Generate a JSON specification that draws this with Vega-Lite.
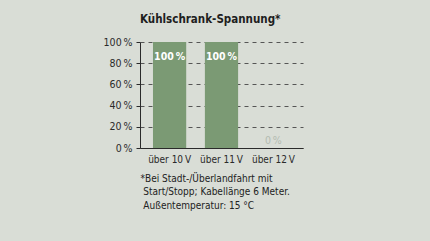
{
  "$schema": "https://vega.github.io/schema/vega-lite/v6.json",
  "autosize": "none",
  "width": 163,
  "height": 106,
  "padding": {"left": 140, "top": 42, "right": 127, "bottom": 93},
  "background": "#d9ddd6",
  "config": {
    "view": {"stroke": null},
    "font": "DejaVu Sans Condensed"
  },
  "title": {
    "text": "Kühlschrank-Spannung*",
    "anchor": "start",
    "frame": "group",
    "fontSize": 11.5,
    "fontWeight": "bold",
    "color": "#1e1e1e",
    "offset": 12,
    "font": "DejaVu Sans Condensed"
  },
  "data": {
    "values": [
      {"kategorie": "über 10\u202fV", "anteil": 100},
      {"kategorie": "über 11\u202fV", "anteil": 100},
      {"kategorie": "über 12\u202fV", "anteil": 0}
    ]
  },
  "encoding": {
    "x": {
      "field": "kategorie",
      "type": "nominal",
      "sort": null,
      "scale": {"paddingInner": 0.36, "paddingOuter": 0.25},
      "axis": {
        "labelAngle": 0,
        "ticks": false,
        "domainColor": "#2a2a2a",
        "labelColor": "#2a2a2a",
        "labelFontSize": 10,
        "labelPadding": 6,
        "title": ["*Bei Stadt-/Überlandfahrt mit", "\u200b\u00a0Start/Stopp; Kabellänge 6 Meter.", "\u200b\u00a0Außentemperatur: 15 °C"],
        "titleAnchor": "start",
        "titleAlign": "left",
        "titleBaseline": "top",
        "titleX": 0,
        "titleY": 25,
        "titleFontSize": 10,
        "titleFontWeight": "normal",
        "titleColor": "#222222",
        "titleLineHeight": 13.5
      }
    },
    "y": {
      "field": "anteil",
      "type": "quantitative",
      "scale": {"domain": [0, 100]},
      "axis": {
        "values": [0, 20, 40, 60, 80, 100],
        "labelExpr": "datum.value + '\u202f%'",
        "labelFontSize": 10.5,
        "labelColor": "#2a2a2a",
        "labelPadding": 4,
        "tickSize": 4,
        "tickColor": "#2a2a2a",
        "domainColor": "#2a2a2a",
        "grid": true,
        "gridColor": "#555555",
        "gridDash": [4, 4],
        "title": null
      }
    }
  },
  "layer": [
    {"mark": {"type": "bar", "color": "#7b9a74"}},
    {
      "transform": [{"filter": "datum.anteil > 0"}],
      "mark": {"type": "text", "dy": 15, "color": "#ffffff", "fontWeight": "bold", "fontSize": 10.5},
      "encoding": {"text": {"value": "100\u202f%"}}
    },
    {
      "transform": [{"filter": "datum.anteil == 0"}],
      "mark": {"type": "text", "dy": -7, "color": "#b3bbb1", "fontSize": 10.5},
      "encoding": {"text": {"value": "0\u202f%"}}
    }
  ]
}
